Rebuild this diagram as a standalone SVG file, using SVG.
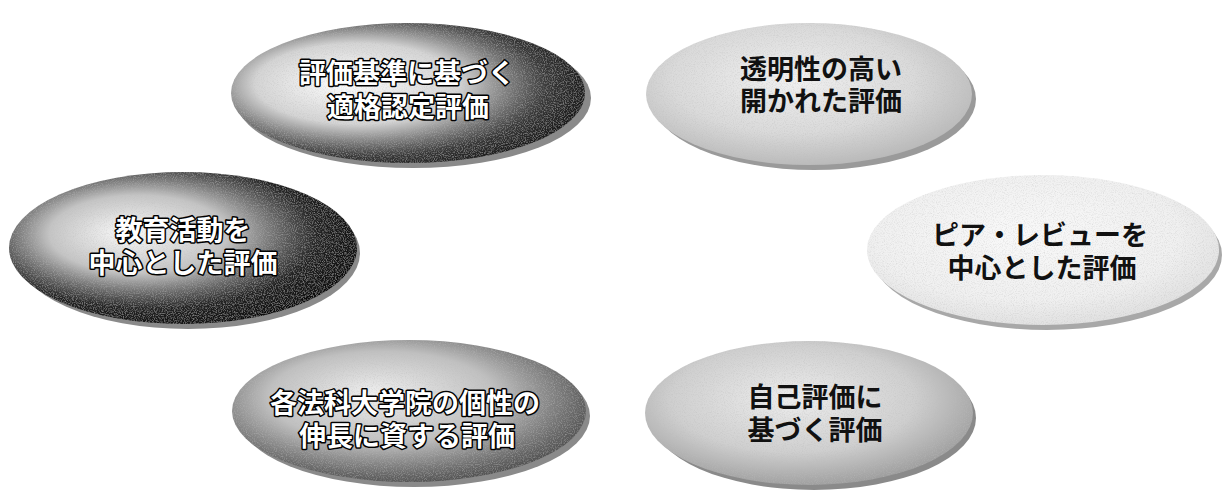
<svg xmlns="http://www.w3.org/2000/svg" width="1224" height="495" viewBox="0 0 1224 495">
  <defs>
    <radialGradient id="gDark1" cx="0.4" cy="0.45" r="0.64" fx="0.32" fy="0.42">
      <stop offset="0" stop-color="#ffffff"/>
      <stop offset="0.45" stop-color="#d4d4d4"/>
      <stop offset="0.8" stop-color="#383838"/>
      <stop offset="1" stop-color="#141414"/>
    </radialGradient>
    <radialGradient id="gDark2" cx="0.42" cy="0.42" r="0.64" fx="0.34" fy="0.4">
      <stop offset="0" stop-color="#fafafa"/>
      <stop offset="0.4" stop-color="#c4c4c4"/>
      <stop offset="0.76" stop-color="#242424"/>
      <stop offset="1" stop-color="#0a0a0a"/>
    </radialGradient>
    <radialGradient id="gMid" cx="0.45" cy="0.42" r="0.64" fx="0.4" fy="0.38">
      <stop offset="0" stop-color="#f0f0f0"/>
      <stop offset="0.5" stop-color="#c0c0c0"/>
      <stop offset="0.85" stop-color="#646464"/>
      <stop offset="1" stop-color="#444444"/>
    </radialGradient>
    <radialGradient id="gLight1" cx="0.45" cy="0.4" r="0.62">
      <stop offset="0" stop-color="#f0f0f0"/>
      <stop offset="0.6" stop-color="#dadada"/>
      <stop offset="1" stop-color="#b8b8b8"/>
    </radialGradient>
    <radialGradient id="gLight2" cx="0.45" cy="0.4" r="0.62">
      <stop offset="0" stop-color="#f9f9f9"/>
      <stop offset="0.7" stop-color="#f0f0f0"/>
      <stop offset="1" stop-color="#e0e0e0"/>
    </radialGradient>
    <radialGradient id="gLight3" cx="0.45" cy="0.4" r="0.62">
      <stop offset="0" stop-color="#ededed"/>
      <stop offset="0.6" stop-color="#cfcfcf"/>
      <stop offset="1" stop-color="#9c9c9c"/>
    </radialGradient>
    <filter id="grain" x="0" y="0" width="100%" height="100%">
      <feTurbulence type="fractalNoise" baseFrequency="0.9" numOctaves="2" seed="3" result="n"/>
      <feColorMatrix in="n" type="matrix" values="0 0 0 0 0.5  0 0 0 0 0.5  0 0 0 0 0.5  0 0 0 -1.0 0.55" result="w"/>
      <feComposite in="w" in2="SourceGraphic" operator="in" result="wm"/>
      <feMerge><feMergeNode in="SourceGraphic"/><feMergeNode in="wm"/></feMerge>
    </filter>
  </defs>
  <style>
    .shadow { fill: #8a8a8a; }
    .lbl { font-family: "Liberation Sans", "Noto Sans CJK JP", sans-serif; font-size: 27px; font-weight: 700; text-anchor: middle; }
    .dark { fill: #ffffff; stroke: #000000; stroke-width: 3px; paint-order: stroke; stroke-linejoin: round; }
    .light { fill: #111111; }
  </style>
  <rect width="1224" height="495" fill="#ffffff"/>

  <g id="node-criteria">
    <ellipse class="shadow" cx="413" cy="98" rx="178" ry="70"/>
    <ellipse cx="408" cy="93" rx="177" ry="70" fill="url(#gDark1)" filter="url(#grain)"/>
    <text class="lbl dark" x="407" y="83">評価基準に基づく</text>
    <text class="lbl dark" x="408" y="117">適格認定評価</text>
  </g>

  <g id="node-transparent">
    <ellipse class="shadow" cx="814" cy="99" rx="162" ry="71" style="fill:#9a9a9a"/>
    <ellipse cx="809" cy="94" rx="163" ry="71" fill="url(#gLight1)" filter="url(#grain)"/>
    <text class="lbl light" x="821" y="79">透明性の高い</text>
    <text class="lbl light" x="821" y="111">開かれた評価</text>
  </g>

  <g id="node-education">
    <ellipse class="shadow" cx="188" cy="253" rx="172" ry="76"/>
    <ellipse cx="183" cy="248" rx="174" ry="76" fill="url(#gDark2)" filter="url(#grain)"/>
    <text class="lbl dark" x="183" y="240">教育活動を</text>
    <text class="lbl dark" x="183" y="273">中心とした評価</text>
  </g>

  <g id="node-peer">
    <ellipse class="shadow" cx="1047" cy="255" rx="175" ry="75" style="fill:#a8a8a8"/>
    <ellipse cx="1043" cy="250" rx="176" ry="75" fill="url(#gLight2)" filter="url(#grain)"/>
    <text class="lbl light" x="1040" y="245">ピア・レビューを</text>
    <text class="lbl light" x="1042" y="278">中心とした評価</text>
  </g>

  <g id="node-individuality">
    <ellipse class="shadow" cx="414" cy="416" rx="176" ry="71"/>
    <ellipse cx="409" cy="411" rx="177" ry="71" fill="url(#gMid)" filter="url(#grain)"/>
    <text class="lbl dark" x="405" y="413">各法科大学院の個性の</text>
    <text class="lbl dark" x="407" y="446">伸長に資する評価</text>
  </g>

  <g id="node-self">
    <ellipse class="shadow" cx="814" cy="418" rx="162" ry="72"/>
    <ellipse cx="809" cy="413" rx="164" ry="72" fill="url(#gLight3)" filter="url(#grain)"/>
    <text class="lbl light" x="815" y="407">自己評価に</text>
    <text class="lbl light" x="815" y="440">基づく評価</text>
  </g>

  <g id="connectors"/>
</svg>
